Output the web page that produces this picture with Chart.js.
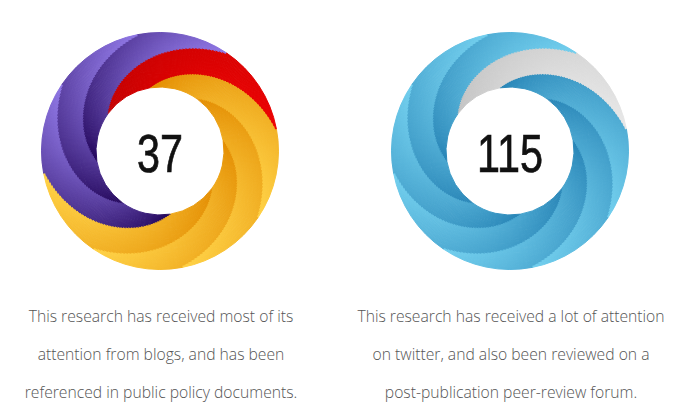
<!DOCTYPE html>
<html><head><meta charset="utf-8">
<script src="https://cdn.jsdelivr.net/npm/chart.js@4.4.1/dist/chart.umd.min.js"></script>
<style>
html,body{margin:0;padding:0;background:#fff;}
body{width:689px;height:419px;position:relative;overflow:hidden;}
.wrap{position:absolute;width:238px;height:238px;}
.cap{position:absolute;width:340px;text-align:center;font-family:"Open Sans",sans-serif;font-weight:300;font-size:15.7px;line-height:38px;color:#555;}
</style></head><body>
<div class="wrap" style="left:41px;top:32px"><canvas id="c1" width="238" height="238"></canvas></div>
<div class="wrap" style="left:391px;top:32px"><canvas id="c2" width="238" height="238"></canvas></div>
<div class="cap" style="left:-9px;top:297px">This research has received most of its<br>attention from blogs, and has been<br>referenced in public policy documents.</div>
<div class="cap" style="left:341px;top:297px">This research has received a lot of attention<br>on twitter, and also been reviewed on a<br>post-publication peer-review forum.</div>
<script>
// ---- data ----
const scores = [37, 115];
const leftSources = ['Blogs', 'Policy documents', 'News'];
const leftSegments = [4, 3, 1];
const rightSources = ['Twitter', 'Peer review'];
const rightSegments = [7, 1];

// ---- styles ----
const PALETTE = {
  'Blogs':            ['#e38c00', '#ffd246'],
  'Policy documents': ['#22055a', '#9078e6'],
  'News':             ['#c20000', '#ec0202'],
  'Twitter':          ['#2784b6', '#72cfee'],
  'Peer review':      ['#c2c2c2', '#e8e8e8']
};
const N_RINGS = 54, TWIST = 90, ROT_INNER = -10;

function hex(c){return [1,3,5].map(i=>parseInt(c.substr(i,2),16));}
function shade(pal, a, t){
  let f = 0.45*a + 0.55*t; f = Math.max(0, Math.min(1, f));
  const d = hex(pal[0]), l = hex(pal[1]);
  const m = d.map((v,i)=>Math.round(v + (l[i]-v)*f));
  return 'rgb(' + m.join(',') + ')';
}
function fill(ctx){
  if (ctx.type !== 'data') return '#cccccc';
  const chart = ctx.chart, ca = chart.chartArea;
  const ds = chart.data.datasets[ctx.datasetIndex];
  const pal = PALETTE[chart.data.labels[ctx.dataIndex]];
  if (!ca) return pal[0];
  const n = ds.data.length;
  const cx = (ca.left + ca.right)/2, cy = (ca.top + ca.bottom)/2;
  const start = (ds.rotation - 90)*Math.PI/180 + ctx.dataIndex*2*Math.PI/n;
  const g = chart.ctx.createConicGradient(start, cx, cy);
  const frac = 1/n, steps = 6;
  for (let s = 0; s <= steps; s++){ const a = s/steps; g.addColorStop(a*frac, shade(pal, a, ds.ringT)); }
  g.addColorStop(1, shade(pal, 0, ds.ringT));
  return g;
}
const centerText = {
  id: 'centerText',
  afterDraw(chart, args, opts){
    const ca = chart.chartArea, c = chart.ctx;
    c.save();
    c.translate((ca.left+ca.right)/2, (ca.top+ca.bottom)/2 + opts.dy);
    c.scale(opts.scaleX, 1);
    c.font = opts.font; c.fillStyle = opts.color; c.strokeStyle = opts.color; c.lineWidth = 0.7;
    c.textAlign = 'center'; c.textBaseline = 'alphabetic';
    c.fillText(opts.text, 0, 0);
    c.strokeText(opts.text, 0, 0);
    c.restore();
  }
};
function makeChart(id, sources, segments, score){
  const petals = [];
  sources.forEach((s,i)=>{ for (let j=0;j<segments[i];j++) petals.push(s); });
  const datasets = [];
  for (let k=0;k<N_RINGS;k++){
    const t = 1 - (k+0.5)/N_RINGS;
    datasets.push({data: petals.map(()=>1), rotation: ROT_INNER + TWIST*t, ringT: t,
      backgroundColor: fill, borderColor: fill, borderWidth: 1});
  }
  new Chart(document.getElementById(id), {
    type: 'doughnut',
    data: {labels: petals, datasets},
    options: {
      responsive: false, animation: false, events: [],
      cutout: '54%',
      layout: {padding: 0},
      plugins: {legend: {display: false}, tooltip: {enabled: false},
        centerText: {text: String(score), font: '53px "Liberation Sans", Arial, sans-serif', color: '#111', dy: 21, scaleX: 0.78}}
    },
    plugins: [centerText]
  });
}
makeChart('c1', leftSources, leftSegments, scores[0]);
makeChart('c2', rightSources, rightSegments, scores[1]);
</script>
</body></html>
